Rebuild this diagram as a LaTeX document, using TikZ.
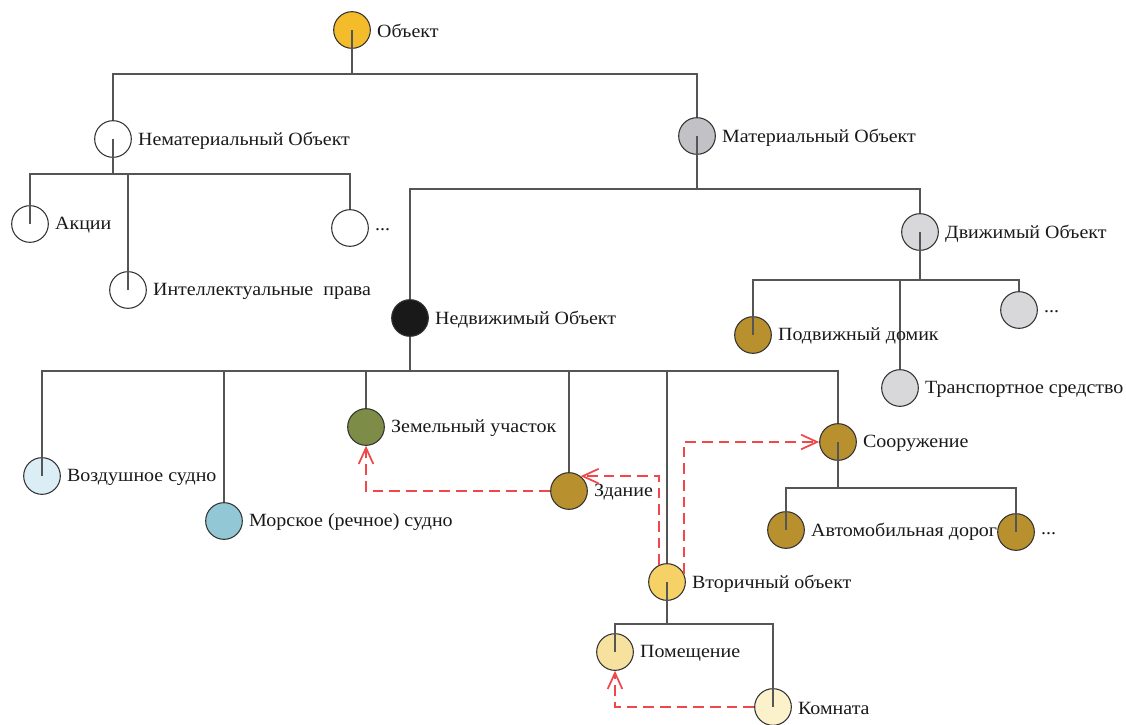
\documentclass[tikz,border=0pt]{standalone}
\usepackage{fontspec}
\setmainfont[FakeStretch=1.07]{Liberation Serif}
\usetikzlibrary{arrows.meta}
\pgfdeclarelayer{background}
\pgfsetlayers{background,main}

\definecolor{linegray}{HTML}{555555}
\definecolor{rimgray}{HTML}{333333}
\definecolor{redlink}{HTML}{F0484A}
\definecolor{cobject}{HTML}{F4BC2A}
\definecolor{cmaterial}{HTML}{C2C2C6}
\definecolor{cmovable}{HTML}{D8D8DA}
\definecolor{cbrown}{HTML}{B8902E}
\definecolor{cgreen}{HTML}{7D8C46}
\definecolor{cair}{HTML}{DCEEF5}
\definecolor{csea}{HTML}{92C8D6}
\definecolor{csecond}{HTML}{F6D266}
\definecolor{cpremise}{HTML}{F6E29E}
\definecolor{croom}{HTML}{FBF2CC}

\tikzset{
  obj/.style={circle, draw=rimgray, line width=0.8pt, minimum size=27.5pt,
    inner sep=0pt, fill=white},
  every label/.style={font=\fontsize{14}{16}\selectfont, inner sep=1pt,
    text=black!90, yshift=-1pt},
  tree/.style={draw=linegray, line width=1.1pt},
  stub/.style={draw=linegray, line width=1.1pt},
  relink/.style={draw=redlink, line width=2pt, dash pattern=on 8pt off 4.5pt,
    -{Straight Barb[length=12pt,width=11pt,line width=1.3pt]}},
}

\begin{document}
\begin{tikzpicture}[x=0.75pt, y=-0.75pt, label distance=3.5pt]
\useasboundingbox (0,0) rectangle (1126,724);

% ---- nodes ----
\node[obj, fill=cobject, label=right:Объект] (o) at (352,30) {};

\node[obj, label=right:Нематериальный Объект] (nm) at (113,139) {};
\node[obj, fill=cmaterial, label=right:Материальный Объект] (mt) at (697,136) {};

\node[obj, label=right:Акции] (ak) at (30,224) {};
\node[obj, label=right:Интеллектуальные\ \ права] (ip) at (128,290) {};
\node[obj, label=right:...] (nx) at (350,228) {};

\node[obj, fill=black!90, label=right:Недвижимый Объект] (ne) at (410,318) {};
\node[obj, fill=cmovable, label=right:Движимый Объект] (dv) at (920,232) {};

\node[obj, fill=cbrown, label=right:Подвижный домик] (pd) at (753,335) {};
\node[obj, fill=cmovable, label=right:Транспортное средство] (ts) at (900,388) {};
\node[obj, fill=cmovable, label=right:...] (dx) at (1019,310) {};

\node[obj, fill=cair, label=right:Воздушное судно] (vs) at (42,476) {};
\node[obj, fill=csea, label=right:Морское (речное) судно] (ms) at (224,521) {};
\node[obj, fill=cgreen, label=right:Земельный участок] (zu) at (366,427) {};
\node[obj, fill=cbrown, label=right:Здание] (zd) at (569,491) {};
\node[obj, fill=csecond, label=right:Вторичный объект] (vt) at (667,582) {};
\node[obj, fill=cbrown, label=right:Сооружение] (so) at (838,442) {};

\node[obj, fill=cbrown, label=right:Автомобильная дорог] (ad) at (786,530) {};
\node[obj, fill=cbrown, label=right:...] (sx) at (1016,532) {};

\node[obj, fill=cpremise, label=right:Помещение] (pm) at (615,652) {};
\node[obj, fill=croom, label=right:Комната] (km) at (773,707) {};

% ---- junctions of the tree ----
\coordinate (b0) at (352,74);
\coordinate (b1) at (113,174);
\coordinate (b2) at (697,189);
\coordinate (b3) at (920,280);
\coordinate (b4) at (410,371);
\coordinate (b5) at (838,488);
\coordinate (b6) at (667,624);

% ---- tree connectors, behind the circles ----
\begin{pgfonlayer}{background}
\draw[tree] (o.center) -- (b0);
\draw[tree] (b0) -| (nm.center);
\draw[tree] (b0) -| (mt.center);

\draw[tree] (nm.center) -- (b1);
\draw[tree] (b1) -| (ak.center);
\draw[tree] (b1) -| (ip.center);
\draw[tree] (b1) -| (nx.center);

\draw[tree] (mt.center) -- (b2);
\draw[tree] (b2) -| (ne.center);
\draw[tree] (b2) -| (dv.center);

\draw[tree] (dv.center) -- (b3);
\draw[tree] (b3) -| (pd.center);
\draw[tree] (b3) -| (ts.center);
\draw[tree] (b3) -| (dx.center);

\draw[tree] (ne.center) -- (b4);
\draw[tree] (b4) -| (vs.center);
\draw[tree] (b4) -| (ms.center);
\draw[tree] (b4) -| (zu.center);
\draw[tree] (b4) -| (zd.center);
\draw[tree] (b4) -| (vt.center);
\draw[tree] (b4) -| (so.center);

\draw[tree] (so.center) -- (b5);
\draw[tree] (b5) -| (ad.center);
\draw[tree] (b5) -| (sx.center);

\draw[tree] (vt.center) -- (b6);
\draw[tree] (b6) -| (pm.center);
\draw[tree] (b6) -| (km.center);
\end{pgfonlayer}

% ---- stubs drawn over the circles ----
\foreach \n in {o,nm,mt,dv,so,vt}
  \draw[stub] (\n.center) -- (\n.south);
\foreach \n in {ak,ip,vs,pd,ad,sx,pm,km}
  \draw[stub] (\n.north) -- (\n.center);

% ---- dashed red relations ----
\draw[relink] (zd.west) -| (zu.south);
\draw[relink] (vt.115) |- (zd.52);
\draw[relink] (vt.25) |- (so.west);
\draw[relink] (km.west) -| (pm.south);
\end{tikzpicture}
\end{document}
